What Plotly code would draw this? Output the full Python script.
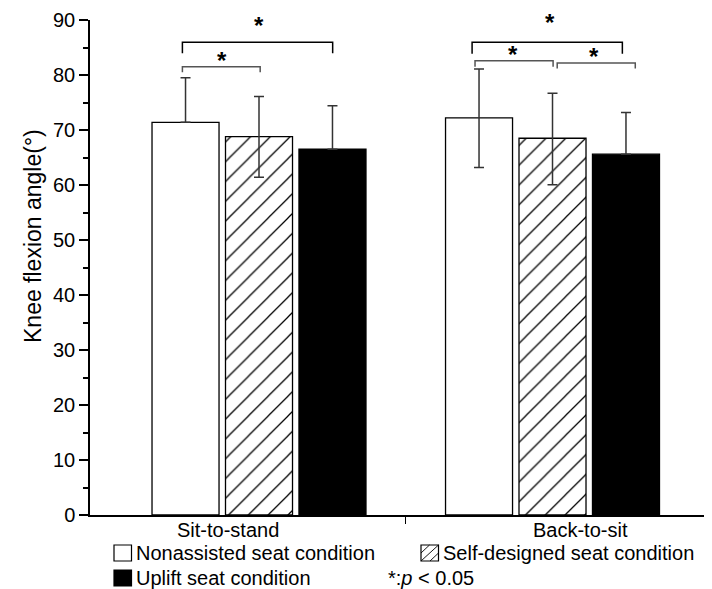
import plotly.graph_objects as go

# ---------------- data ----------------
categories = ["Sit-to-stand", "Back-to-sit"]
conditions = ["Nonassisted seat condition", "Self-designed seat condition", "Uplift seat condition"]

nonassisted_mean = [71.4, 72.2]
nonassisted_err_up = [8.1, 8.9]
nonassisted_err_down = [0.0, 9.0]

selfdesigned_mean = [68.8, 68.5]
selfdesigned_err_up = [7.3, 8.2]
selfdesigned_err_down = [7.4, 8.45]

uplift_mean = [66.5, 65.6]
uplift_err_up = [7.9, 7.6]
uplift_err_down = [0.0, 0.0]

y_ticks = [0, 10, 20, 30, 40, 50, 60, 70, 80, 90]
y_title = "Knee flexion angle(°)"
sig_label = "*"
p_note = "*:<i>p</i> < 0.05"

# ---------------- figure ----------------
FONT = "Liberation Sans, Arial, sans-serif"
x_pos = list(range(len(categories)))
ERR = dict(type="data", symmetric=False, color="#333333", thickness=1.5, width=5)

fig = go.Figure()
fig.add_trace(go.Bar(
    x=x_pos, y=nonassisted_mean, name=conditions[0],
    marker=dict(color="white", line=dict(color="black", width=1.3)),
    error_y=dict(ERR, array=nonassisted_err_up, arrayminus=nonassisted_err_down),
))
fig.add_trace(go.Bar(
    x=x_pos, y=selfdesigned_mean, name=conditions[1],
    marker=dict(color="white", line=dict(color="black", width=1.3),
                pattern=dict(shape="/", size=14, solidity=0.09, fgcolor="black", bgcolor="white",
                             fgopacity=1)),
    error_y=dict(ERR, array=selfdesigned_err_up, arrayminus=selfdesigned_err_down),
))
fig.add_trace(go.Bar(
    x=x_pos, y=uplift_mean, name=conditions[2],
    marker=dict(color="black", line=dict(color="black", width=1.3)),
    error_y=dict(ERR, array=uplift_err_up, arrayminus=uplift_err_down),
))

# significance brackets: (x_start, x_end, y_top, leg_length, color, star_x, star_y)
bar_off = 0.25
brackets = [
    (0 - bar_off - 0.011, 0 + bar_off + 0.001, 85.95, 2.0, "black", 0.0, 89.0),
    (0 - bar_off - 0.011, 0 + 0.004, 81.5, 1.0, "#555555", -0.127, 82.6),
    (1 - bar_off - 0.024, 1 + bar_off - 0.012, 85.95, 2.1, "black", 0.991, 89.6),
    (1 - bar_off - 0.014, 1 + 0.002, 82.6, 1.1, "#555555", 0.866, 83.7),
    (1 + 0.016, 1 + bar_off + 0.032, 82.2, 1.0, "#555555", 1.14, 83.4),
]
shapes = []
annotations = []
for x0, x1, yt, leg, col, sx, sy in brackets:
    shapes.append(dict(type="path", xref="x", yref="y",
                       path=f"M {x0},{yt - leg} L {x0},{yt} L {x1},{yt} L {x1},{yt - leg}",
                       line=dict(color=col, width=1.5)))
    annotations.append(dict(x=sx, y=sy, xref="x", yref="y", text=f"<b>{sig_label}</b>",
                            showarrow=False, font=dict(family=FONT, size=24, color="black"),
                            xanchor="center", yanchor="middle"))

# category labels under the axis
cat_label_x = [-0.104, 1.094]
for cx, name in zip(cat_label_x, categories):
    annotations.append(dict(x=cx, y=-0.03, xref="x", yref="paper", text=name, showarrow=False,
                            font=dict(family=FONT, size=20, color="black"),
                            xanchor="center", yanchor="middle"))

# page offset (browser body margin) and plot-area placement in page pixels
PAGE_OFF = 8
PLOT_L, PLOT_R, PLOT_T, PLOT_B = 90, 712, 20, 515


def px2paper(px, py):
    return (px - PLOT_L) / (PLOT_R - PLOT_L), (PLOT_B - py) / (PLOT_B - PLOT_T)


# y-axis title (placed like the original, above the plot centre)
ttx, tty = px2paper(33, 236)
annotations.append(dict(x=ttx, y=tty, xref="paper", yref="paper", text=y_title, showarrow=False,
                        textangle=-90, font=dict(family=FONT, size=23, color="black"),
                        xanchor="center", yanchor="middle"))

legend_items = [
    (conditions[0], 114, 545, "white"),
    (conditions[1], 421, 545, "hatch"),
    (conditions[2], 114, 570, "black"),
]
sq_w, sq_h = 17.5, 16
for name, lx, ly, style in legend_items:
    x0, y0 = px2paper(lx, ly)
    x1, y1 = px2paper(lx + sq_w, ly + sq_h)
    shapes.append(dict(type="rect", xref="paper", yref="paper", x0=x0, y0=y1, x1=x1, y1=y0,
                       fillcolor="black" if style == "black" else "white",
                       line=dict(color="black", width=1.2)))
    if style == "hatch":
        for (ax, ay, bx, by) in [(0, 16, 17.5, 0), (0, 8, 8.5, 0), (9, 16, 17.5, 8)]:
            p0 = px2paper(lx + ax, ly + ay)
            p1 = px2paper(lx + bx, ly + by)
            shapes.append(dict(type="line", xref="paper", yref="paper",
                               x0=p0[0], y0=p0[1], x1=p1[0], y1=p1[1],
                               line=dict(color="black", width=0.9)))
    tx, ty = px2paper(lx + sq_w + 2, ly + sq_h / 2)
    annotations.append(dict(x=tx, y=ty, xref="paper", yref="paper", text=name, showarrow=False,
                            font=dict(family=FONT, size=20, color="black"),
                            xanchor="left", yanchor="middle"))

nx, ny = px2paper(386, 578)
annotations.append(dict(x=nx, y=ny, xref="paper", yref="paper", text=p_note, showarrow=False,
                        font=dict(family=FONT, size=20, color="black"),
                        xanchor="left", yanchor="middle"))

fig.update_layout(
    width=712 - PAGE_OFF, height=589 - PAGE_OFF,
    margin=dict(l=PLOT_L - PAGE_OFF, r=0, t=PLOT_T - PAGE_OFF, b=589 - PLOT_B, autoexpand=False),
    paper_bgcolor="white", plot_bgcolor="white",
    barmode="group", bargap=0.249, bargroupgap=0.088,
    showlegend=False,
    font=dict(family=FONT, size=20, color="black"),
    shapes=shapes, annotations=annotations,
    xaxis=dict(range=[-0.5758, 1.5434], showline=True, linecolor="black", linewidth=1.5,
               tickmode="array", tickvals=[0.5], ticktext=[""], ticks="outside",
               ticklen=7, tickwidth=1.2, tickcolor="black", showgrid=False, zeroline=False),
    yaxis=dict(range=[0, 90], showline=True, linecolor="black", linewidth=1.5,
               tickmode="array", tickvals=y_ticks, ticks="outside", ticklen=9, tickwidth=1.5,
               tickcolor="black", showgrid=False, zeroline=False,
               tickfont=dict(family=FONT, size=20, color="black"),
               minor=dict(dtick=5, ticks="outside", ticklen=5, tickwidth=1.5, tickcolor="black")),
)

fig.write_html("out.html")
